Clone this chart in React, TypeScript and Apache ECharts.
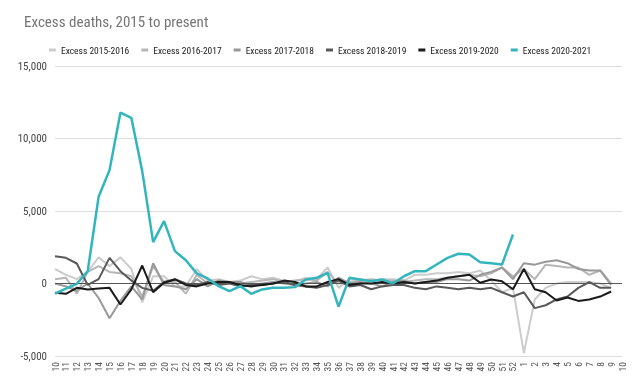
import React, { useEffect, useRef } from "react";
import * as echarts from "echarts";

const weeks: string[] = [
  "10","11","12","13","14","15","16","17","18","19","20","21","22","23","24","25","26","27","28","29","30",
  "31","32","33","34","35","36","37","38","39","40","41","42","43","44","45","46","47","48","49","50","51","52",
  "1","2","3","4","5","6","7","8","9","10",
];

const seriesNames: string[] = [
  "Excess 2015-2016",
  "Excess 2016-2017",
  "Excess 2017-2018",
  "Excess 2018-2019",
  "Excess 2019-2020",
  "Excess 2020-2021",
];

const excess2015: number[] = [
  1000, 600, 300, 800, 1800, 1200, 1800, 1000, -1300, 500, 500, -200, -200, 1000, 200, 300, 100, 200, 500, 300, 400,
  200, 100, 400, 300, 1100, -300, 300, 300, 200, 300, 300, 200, 600, 600, 700, 700, 800, 700, 900, 200, -600, -300,
  -4800, -1100, -300, 0, 100, 100, 100, 0, -300,
];

const excess2016: number[] = [
  300, 400, -700, 800, 1200, 800, 700, 500, -900, 1200, 100, 100, -700, 600, 0, 200, 100, 0, 100, 200, 300,
  100, 200, 300, 200, 800, 0, 100, 200, 300, 200, 200, 100, 200, 300, 300, 400, 500, 600, 500, 700, 1100, 500,
  1000, 300, 1300, 1200, 1100, 1100, 600, 900, 0,
];

const excess2017: number[] = [
  0, -200, -500, 0, -1000, -2400, -1200, -200, -1100, 1400, -100, -200, -400, 300, -200, 200, 100, 100, -100, 0, 100,
  0, -100, 0, 100, -200, 400, 0, 100, 0, -200, 100, 200, 0, 100, 100, 300, 300, 200, 600, 800, 1100, 300,
  1400, 1300, 1500, 1600, 1400, 1000, 900, 900, -100,
];

const excess2018: number[] = [
  1880, 1770, 1380, -100, 300, 1770, 850, 200, -300, -500, 100, 300, 0, -100, 100, -100, 0, -200, -100, -100, 0,
  100, -100, -200, -300, -100, 200, -200, -100, -400, -200, -100, -100, -300, -400, -200, -300, -400, -300, -400, -300, -600, -900,
  -600, -1700, -1500, -1100, -900, -300, 100, -300, -300,
];

const excess2019: number[] = [
  -640, -710, -300, -410, -350, -300, -1450, -410, 1240, -600, 50, 280, -100, -200, 0, 100, 100, -100, -200, -100, 0,
  200, 100, -200, -200, 100, 300, -100, 0, 0, 100, 0, 100, 0, 100, 200, 400, 500, 600, 50, 280, 150, -400,
  1000, -400, -600, -1170, -970, -1200, -1100, -900, -550,
];

const excess2020: number[] = [
  -700, -350, -20, 850, 5980, 7820, 11780, 11430, 7750, 2850, 4300, 2230, 1600, 700, 350, -180, -530, -180, -710, -410, -300,
  -300, -250, 280, 390, 740, -1600, 390, 280, 160, 280, 0, 500, 850, 850, 1310, 1770, 2050, 2000, 1470, 1400, 1310, 3380,
];

const yTicks: number[] = [-5000, 0, 5000, 10000, 15000];

const colors = ["#cccccc", "#b7b7b7", "#999999", "#595959", "#1a1a1a", "#33b5bd"];

export default function App() {
  const ref = useRef<HTMLDivElement>(null);
  useEffect(() => {
    if (!ref.current) return;
    const chart = echarts.init(ref.current, null, { renderer: "svg" });
    const all = [excess2015, excess2016, excess2017, excess2018, excess2019, excess2020];
    const font = "'Liberation Sans Narrow', 'Roboto Condensed', 'DejaVu Sans Condensed', 'Liberation Sans', Arial, sans-serif";
    chart.setOption({
      animation: false,
      textStyle: { fontFamily: font },
      title: {
        text: "Excess deaths, 2015 to present",
        left: 19,
        top: 9,
        textStyle: { fontSize: 15, fontWeight: "normal", color: "#757575", fontFamily: font },
      },
      legend: {
        data: seriesNames,
        left: "center",
        top: 40,
        icon: "rect",
        itemWidth: 7,
        itemHeight: 3,
        itemGap: 12,
        textStyle: { fontSize: 9.5, color: "#222", fontFamily: font },
      },
      grid: { left: 55, right: 18, top: 66, bottom: 30, containLabel: false },
      xAxis: {
        type: "category",
        data: weeks,
        boundaryGap: false,
        axisLine: { show: false, onZero: false },
        axisTick: { show: false },
        axisLabel: { interval: 0, rotate: 90, fontSize: 9.5, color: "#555", margin: 6, fontFamily: font },
        splitLine: { show: false },
      },
      yAxis: {
        type: "value",
        min: yTicks[0],
        max: yTicks[yTicks.length - 1],
        interval: 5000,
        axisLine: { show: false },
        axisTick: { show: false },
        axisLabel: {
          fontSize: 11,
          color: "#444",
          margin: 8,
          fontFamily: font,
          formatter: (v: number) => v.toLocaleString("en-US"),
        },
        splitLine: { lineStyle: { color: "#dddddd", width: 1 } },
      },
      series: seriesNames.map((name, i) => ({
        name,
        type: "line",
        data: all[i],
        showSymbol: false,
        symbol: "none",
        color: colors[i],
        lineStyle: { width: i === 5 ? 2.5 : 2, color: colors[i] },
        z: 2 + i,
        markLine:
          i === 0
            ? {
                silent: true,
                symbol: "none",
                label: { show: false },
                lineStyle: { color: "#555", width: 1, type: "solid" },
                data: [{ yAxis: 0 }],
              }
            : undefined,
      })),
    });
    return () => chart.dispose();
  }, []);
  return <div ref={ref} style={{ width: 640, height: 386, position: "fixed", left: 0, top: 0 }} />;
}
